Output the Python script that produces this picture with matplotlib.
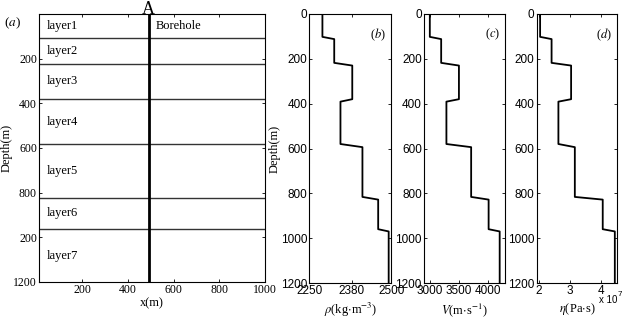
import numpy as np
import matplotlib
matplotlib.use('Agg')
import matplotlib.pyplot as plt

plt.rcParams['mathtext.fontset'] = 'stix'
SERIF = 'Liberation Serif'
SANS = 'Liberation Sans'

# layer model
layer_names = ['layer1', 'layer2', 'layer3', 'layer4', 'layer5', 'layer6', 'layer7']
layer_bounds = [106, 222, 382, 584, 822, 964]       # interfaces in panel (a)
step_top = [102, 218, 380, 580, 816, 960]           # end of upper layer in profiles
step_bot = [112, 230, 391, 594, 828, 970]           # start of lower layer in profiles
rho = [2290, 2326, 2381, 2345, 2412, 2460, 2492]
vel = [3000, 3195, 3500, 3285, 3710, 4010, 4200]
eta_e7 = [2.03, 2.40, 3.03, 2.62, 3.15, 4.05, 4.44]
borehole_x = 490

depth_ticks = [0, 200, 400, 600, 800, 1000, 1200]


def profile(vals):
    xs, ys = [vals[0]], [0]
    for i in range(len(step_top)):
        xs += [vals[i], vals[i + 1]]
        ys += [step_top[i], step_bot[i]]
    xs.append(vals[-1])
    ys.append(1200)
    return xs, ys


def matlab_box(ax):
    ax.tick_params(direction='in', top=True, right=True, length=2.5, width=0.6, pad=1.5)
    for s in ax.spines.values():
        s.set_linewidth(0.8)


fig = plt.figure(figsize=(6.22, 3.2), dpi=100)
W, H = 622.0, 320.0


def add_ax(l, r, t, b):
    return fig.add_axes([l / W, 1 - b / H, (r - l) / W, (b - t) / H])


# (a) model sketch
ax = add_ax(39, 265, 14, 282)
ax.set_xlim(10, 1000)
ax.set_ylim(1200, 0)
for d in layer_bounds:
    ax.axhline(d, color='#333333', lw=1.0)
ax.axvline(borehole_x, color='black', lw=2.0)
tops = [0] + layer_bounds
bots = layer_bounds + [1200]
for name, t, b in zip(layer_names, tops, bots):
    ax.text(45, (t + b) / 2, name, fontsize=9, family=SERIF, va='center', ha='left')
ax.text(520, 53, 'Borehole', fontsize=9, family=SERIF, va='center', ha='left')
ax.text(borehole_x, 0, 'A', fontsize=13, family=SERIF, ha='center', va='baseline',
        clip_on=False)
ax.set_xticks([200, 400, 600, 800, 1000])
ax.set_yticks([200, 400, 600, 800, 1000, 1200])
ax.set_yticklabels(['200', '400', '600', '800', '200', '1200'])
for lab in ax.get_xticklabels() + ax.get_yticklabels():
    lab.set_family(SERIF)
    lab.set_fontsize(8.5)
matlab_box(ax)
ax.set_xlabel('x(m)', family=SERIF, fontsize=9, labelpad=1)
ax.set_ylabel('Depth(m)', family=SERIF, fontsize=9)
ax.yaxis.set_label_coords(-0.118, 0.5)
fig.text(12 / W, 1 - 23 / H, '($a$)', fontsize=9.5, family=SERIF, ha='center', va='center')

# (b)-(d) profiles
panels = [
    ((309.3, 391.3), rho, (2250, 2500), [2250, 2380, 2500], ['2250', '2380', '2500'],
     r'$\rho$(kg$\cdot$m$^{-3}$)', '($b$)'),
    ((424, 505.5), vel, (2900, 4300), [3000, 3500, 4000], ['3000', '3500', '4000'],
     r'$V$(m$\cdot$s$^{-1}$)', '($c$)'),
    ((536.7, 617.3), eta_e7, (1.92, 4.52), [2, 3, 4], ['2', '3', '4'],
     r'$\eta$(Pa$\cdot$s)', '($d$)'),
]
for i, ((l, r), vals, xlim, xt, xtl, xlab, plab) in enumerate(panels):
    ax = add_ax(l, r, 14, 283)
    xs, ys = profile(vals)
    ax.plot(xs, ys, color='black', lw=1.3)
    ax.set_xlim(*xlim)
    ax.set_ylim(1200, 0)
    ax.set_xticks(xt)
    ax.set_xticklabels(xtl)
    ax.set_yticks(depth_ticks)
    for lab in ax.get_xticklabels() + ax.get_yticklabels():
        lab.set_family(SANS)
        lab.set_fontsize(8.5)
    matlab_box(ax)
    ax.set_xlabel(xlab, family=SERIF, fontsize=9, labelpad=3)
    if i == 0:
        ax.set_ylabel('Depth(m)', family=SERIF, fontsize=9, labelpad=0)
    ax.text(0.93, 0.955, plab, transform=ax.transAxes, fontsize=9, family=SERIF,
            ha='right', va='top')

# multiplier of panel (d)
fig.text(599 / W, 1 - 300 / H, 'x 10', fontsize=7, family=SANS, ha='left', va='center')
fig.text(617.5 / W, 1 - 294 / H, '7', fontsize=6, family=SANS, ha='left', va='center')

fig.savefig('out.png', dpi=100)
